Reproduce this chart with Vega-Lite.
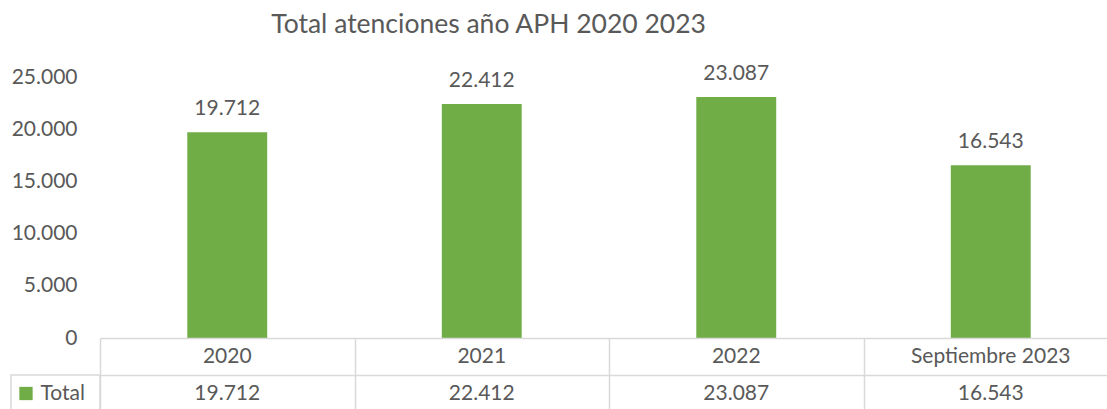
{
  "$schema": "https://vega.github.io/schema/vega-lite/v6.json",
  "padding": {"left": 10, "top": 11, "right": 0, "bottom": 0},
  "background": "white",
  "title": {
    "text": "Total atenciones año APH 2020 2023",
    "anchor": "start",
    "dx": 261,
    "font": "Lato",
    "fontSize": 26.5,
    "fontWeight": "normal",
    "color": "#595959",
    "offset": 24.5
  },
  "data": {
    "values": [
      {"categoria": "2020", "total": 19712},
      {"categoria": "2021", "total": 22412},
      {"categoria": "2022", "total": 23087},
      {"categoria": "Septiembre 2023", "total": 16543}
    ]
  },
  "columns": 2,
  "spacing": 0,
  "bounds": "flush",
  "resolve": {"scale": {"x": "independent", "y": "independent"}},
  "concat": [
    {
      "data": {"values": [{}]},
      "width": 89,
      "height": 261,
      "mark": {"type": "text"},
      "encoding": {"text": {"value": ""}}
    },
    {
      "width": 1018,
      "height": 261,
      "encoding": {
        "x": {"field": "categoria", "type": "nominal", "sort": null, "scale": {"paddingInner": 0, "paddingOuter": 0}, "axis": null},
        "y": {
          "field": "total", "type": "quantitative",
          "scale": {"domain": [0, 25000]},
          "axis": {
            "values": [0, 5000, 10000, 15000, 20000, 25000],
            "format": ",d", "grid": false, "domain": false, "ticks": false,
            "labelFont": "Lato", "labelFontSize": 21, "labelColor": "#595959",
            "labelPadding": 23, "title": null
          }
        }
      },
      "layer": [
        {"mark": {"type": "bar", "color": "#70AD47", "width": {"band": 0.314}}},
        {
          "mark": {"type": "text", "baseline": "alphabetic", "dy": -17, "font": "Lato", "fontSize": 21, "color": "#595959"},
          "encoding": {"text": {"field": "total", "type": "quantitative", "format": ",d"}}
        }
      ]
    },
    {
      "data": {"values": [{"serie": "Total"}]},
      "width": 89,
      "height": 74,
      "encoding": {
        "y": {"field": "serie", "type": "nominal", "scale": {"domain": ["categoria", "Total"], "paddingInner": 0, "paddingOuter": 0}, "axis": null}
      },
      "layer": [
        {"mark": {"type": "rect", "fill": "white", "fillOpacity": 0, "stroke": "#D9D9D9", "strokeWidth": 1.5}},
        {
          "mark": {"type": "point", "shape": "square", "filled": true, "size": 177, "color": "#70AD47", "opacity": 1},
          "encoding": {"x": {"datum": "simbolo", "type": "nominal", "scale": {"type": "point", "domain": ["simbolo", "etiqueta"], "padding": 0.254}, "axis": null}}
        },
        {
          "mark": {"type": "text", "align": "right", "baseline": "middle", "font": "Lato", "fontSize": 21, "color": "#595959"},
          "encoding": {"x": {"datum": "etiqueta", "type": "nominal"}, "text": {"field": "serie"}}
        }
      ]
    },
    {
      "width": 1018,
      "height": 74,
      "encoding": {
        "x": {
          "field": "categoria", "type": "nominal", "sort": null,
          "scale": {"paddingInner": 0, "paddingOuter": 0},
          "axis": {"tickBand": "extent", "bandPosition": 0, "grid": true, "gridColor": "#D9D9D9", "gridWidth": 1.5, "gridOpacity": 1, "labels": false, "ticks": false, "domain": false, "title": null}
        }
      },
      "layer": [
        {
          "mark": {"type": "text", "baseline": "middle", "font": "Lato", "fontSize": 21, "color": "#595959"},
          "encoding": {
            "y": {
              "datum": "categoria", "type": "nominal",
              "scale": {"domain": ["categoria", "Total"], "paddingInner": 0, "paddingOuter": 0},
              "axis": {"tickBand": "extent", "bandPosition": 0, "grid": true, "gridColor": "#D9D9D9", "gridWidth": 1.5, "gridOpacity": 1, "labels": false, "ticks": false, "domain": false, "title": null}
            },
            "text": {"field": "categoria"}
          }
        },
        {
          "mark": {"type": "text", "baseline": "middle", "font": "Lato", "fontSize": 21, "color": "#595959"},
          "encoding": {
            "y": {"datum": "Total", "type": "nominal"},
            "text": {"field": "total", "type": "quantitative", "format": ",d"}
          }
        }
      ]
    }
  ],
  "config": {
    "view": {"stroke": null},
    "locale": {"number": {"decimal": ",", "thousands": ".", "grouping": [3], "currency": ["$", ""]}}
  }
}
